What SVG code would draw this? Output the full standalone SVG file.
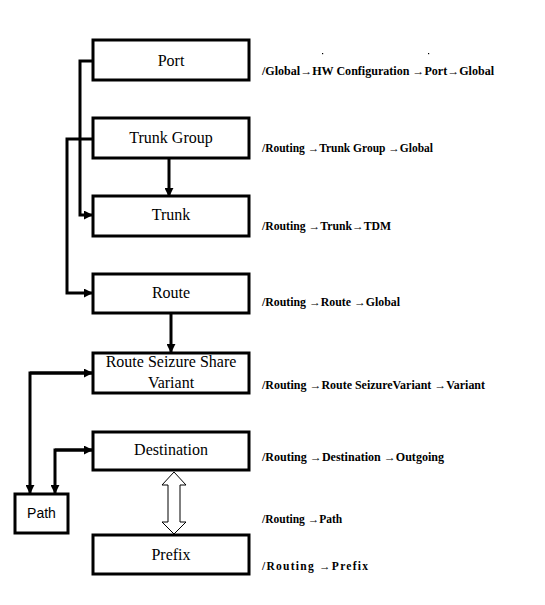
<svg xmlns="http://www.w3.org/2000/svg" width="545" height="605" viewBox="0 0 545 605">
<style>
.box{fill:#fff;stroke:#000;stroke-width:3}
.bt{font-family:"Liberation Serif","DejaVu Serif",serif;font-size:16px;text-anchor:middle;fill:#000}
.pt{font-family:"Liberation Sans",sans-serif;font-size:14px;text-anchor:middle;fill:#000}
.lb{font-family:"Liberation Serif","DejaVu Serif",serif;font-size:11.5px;font-weight:bold;fill:#000}
.ln{fill:none;stroke:#000;stroke-width:3}
</style>
<defs>
<marker id="ah" viewBox="0 0 10 10" refX="9" refY="5" markerWidth="3" markerHeight="3" orient="auto" markerUnits="strokeWidth">
<path d="M0,0 L10,5 L0,10 z" fill="#000"/>
</marker>
</defs>
<rect width="545" height="605" fill="#fff"/>
<g id="connectors">
<path class="ln" d="M93,61 H80 V215 H92" marker-end="url(#ah)"/>
<path class="ln" d="M93,139 H67 V293 H92" marker-end="url(#ah)"/>
<path class="ln" d="M169,158 V196" marker-end="url(#ah)"/>
<path class="ln" d="M171,313 V352" marker-end="url(#ah)"/>
<path class="ln" d="M92,373 H30 V493" marker-end="url(#ah)"/>
<path class="ln" d="M30,373 H92" marker-end="url(#ah)"/>
<path class="ln" d="M92,450 H55 V493" marker-end="url(#ah)"/>
<path class="ln" d="M55,450 H92" marker-end="url(#ah)"/>
<path d="M174,472 L186,485 L180,485 L180,522 L186,522 L174,534 L162,522 L168,522 L168,485 L162,485 Z" fill="#fff" stroke="#000" stroke-width="1"/>
</g>
<g id="port"><rect class="box" x="93" y="40" width="156" height="40"/><text class="bt" x="171" y="66">Port</text></g>
<g id="trunkgroup"><rect class="box" x="93" y="118" width="156" height="40"/><text class="bt" x="171" y="143">Trunk Group</text></g>
<g id="trunk"><rect class="box" x="93" y="196" width="156" height="40"/><text class="bt" x="171" y="220">Trunk</text></g>
<g id="route"><rect class="box" x="93" y="274" width="156" height="39"/><text class="bt" x="171" y="298">Route</text></g>
<g id="rssv"><rect class="box" x="93" y="353" width="156" height="40"/><text class="bt" x="171" y="367">Route Seizure Share</text><text class="bt" x="171" y="388">Variant</text></g>
<g id="destination"><rect class="box" x="93" y="432" width="156" height="38"/><text class="bt" x="171" y="455">Destination</text></g>
<g id="prefix"><rect class="box" x="93" y="535" width="156" height="39"/><text class="bt" x="171" y="560">Prefix</text></g>
<g id="path"><rect class="box" x="15" y="494" width="53" height="39"/><text class="pt" x="41.5" y="518">Path</text></g>
<g id="labels">
<rect x="322" y="53" width="1.2" height="1.2" fill="#000"/>
<rect x="428" y="53" width="1.2" height="1.2" fill="#000"/>
<text class="lb" x="262" y="75" textLength="232" lengthAdjust="spacingAndGlyphs">/Global→HW Configuration →Port→Global</text>
<text class="lb" x="262" y="152" textLength="171" lengthAdjust="spacingAndGlyphs">/Routing →Trunk Group →Global</text>
<text class="lb" x="262" y="230" textLength="129" lengthAdjust="spacingAndGlyphs">/Routing →Trunk→TDM</text>
<text class="lb" x="262" y="306" textLength="138" lengthAdjust="spacingAndGlyphs">/Routing →Route →Global</text>
<text class="lb" x="262" y="389" textLength="223" lengthAdjust="spacingAndGlyphs">/Routing →Route SeizureVariant →Variant</text>
<text class="lb" x="262" y="461" textLength="182" lengthAdjust="spacingAndGlyphs">/Routing →Destination →Outgoing</text>
<text class="lb" x="262" y="523">/Routing →Path</text>
<text class="lb" x="262" y="570" textLength="106" lengthAdjust="spacing">/Routing →Prefix</text>
</g>
</svg>
